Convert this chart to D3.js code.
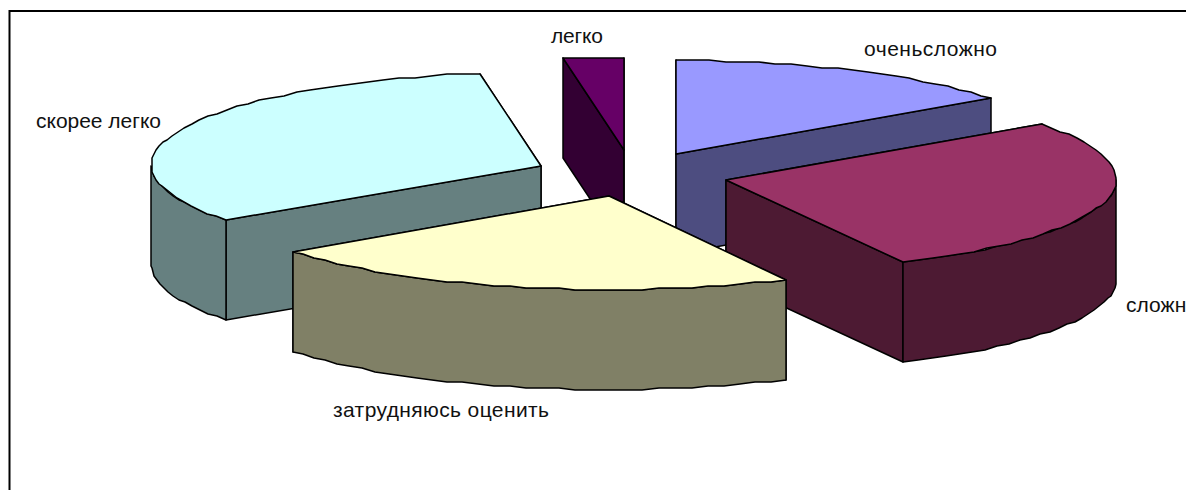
<!DOCTYPE html>
<html>
<head>
<meta charset="utf-8">
<script src="https://cdn.jsdelivr.net/npm/d3@7"></script>
<style>
  html, body { margin: 0; padding: 0; background: #fff; overflow: hidden; }
  svg { display: block; }
  text { font-family: "Liberation Sans", Arial, sans-serif; font-size: 21px; fill: #111; }
</style>
</head>
<body>
<svg id="chart" width="1186" height="490"></svg>
<script>
const categories = ['оченьсложно', 'сложно', 'затрудняюсь оценить', 'скорее легко', 'легко']
const shares = [15, 27.5, 22.5, 32.5, 2.5]
const topColors = ['#9999ff', '#993366', '#ffffcc', '#ccffff', '#660066']
const wallColors = ['#4d4d80', '#4d1a33', '#808066', '#668080', '#330033']
// painter's order, back to front
const drawOrder = [4, 0, 3, 1, 2]
const labelSpots = [[864, 56], [1126, 312], [333, 417], [36, 128], [551, 43]]
const labelWidths = [133, 72, 216, 125, 52]

const width = 1186
const height = 490
const centerX = 631.5
const centerY = 174
const radiusX = 390
const radiusY = 93
const depth = 100
const explode = 0.25
const stepAngle = Math.PI / 72

const svg = d3.select('#chart')

// plot frame runs off the right and bottom of the window
svg.append('rect')
  .attr('x', 9.5)
  .attr('y', 11)
  .attr('width', width + 50)
  .attr('height', height + 50)
  .attr('fill', '#fff')
  .attr('stroke', '#000')
  .attr('stroke-width', 2)

const x = d3.scaleLinear().domain([-1, 1]).range([centerX - radiusX, centerX + radiusX])
const y = d3.scaleLinear().domain([-1, 1]).range([centerY - radiusY, centerY + radiusY])

const pie = d3.pie().sort(null).value(d => d)
const arcs = pie(shares)

const line = d3.line()

// angle is clockwise from the top of the pie, y snaps to a coarse grid for the rough edge
const project = (arc, r, a, drop = 0) => {
  const mid = (arc.startAngle + arc.endAngle) / 2
  const ux = explode * Math.sin(mid) + r * Math.sin(a)
  const uy = -explode * Math.cos(mid) - r * Math.cos(a)
  return [Math.round(x(ux)), Math.round(y(uy) / 2) * 2 + drop]
}

const sweep = (from, to) => {
  const n = Math.max(1, Math.ceil((to - from) / stepAngle))
  return d3.range(n + 1).map(i => from + (to - from) * i / n)
}

const face = (g, points, fill) => {
  g.append('path')
    .attr('d', line(points) + 'Z')
    .attr('fill', fill)
    .attr('stroke', '#000')
    .attr('stroke-width', 1.5)
    .attr('stroke-linejoin', 'round')
}

drawOrder.forEach(i => {
  const arc = arcs[i]
  const g = svg.append('g').attr('class', 'slice')
  const apex = project(arc, 0, 0)

  // radial walls, the one reaching further back goes first
  const walls = [arc.startAngle, arc.endAngle]
    .map(a => project(arc, 1, a))
    .sort((p, q) => p[1] - q[1])
  walls.forEach(p => {
    face(g, [apex, p, [p[0], p[1] + depth], [apex[0], apex[1] + depth]], wallColors[i])
  })

  // rim wall, only the part that faces the viewer
  const from = Math.max(arc.startAngle, Math.PI / 2)
  const to = Math.min(arc.endAngle, Math.PI * 1.5)
  if (to > from) {
    const rimTop = sweep(from, to).map(a => project(arc, 1, a))
    const rimBottom = sweep(from, to).reverse().map(a => project(arc, 1, a, depth))
    face(g, rimTop.concat(rimBottom), wallColors[i])
  }

  const topEdge = sweep(arc.startAngle, arc.endAngle).map(a => project(arc, 1, a))
  face(g, [apex].concat(topEdge), topColors[i])
})

svg.selectAll('text.label')
  .data(categories)
  .enter()
  .append('text')
  .attr('class', 'label')
  .attr('x', (d, i) => labelSpots[i][0])
  .attr('y', (d, i) => labelSpots[i][1])
  .attr('textLength', (d, i) => labelWidths[i])
  .text(d => d)
</script>
</body>
</html>
